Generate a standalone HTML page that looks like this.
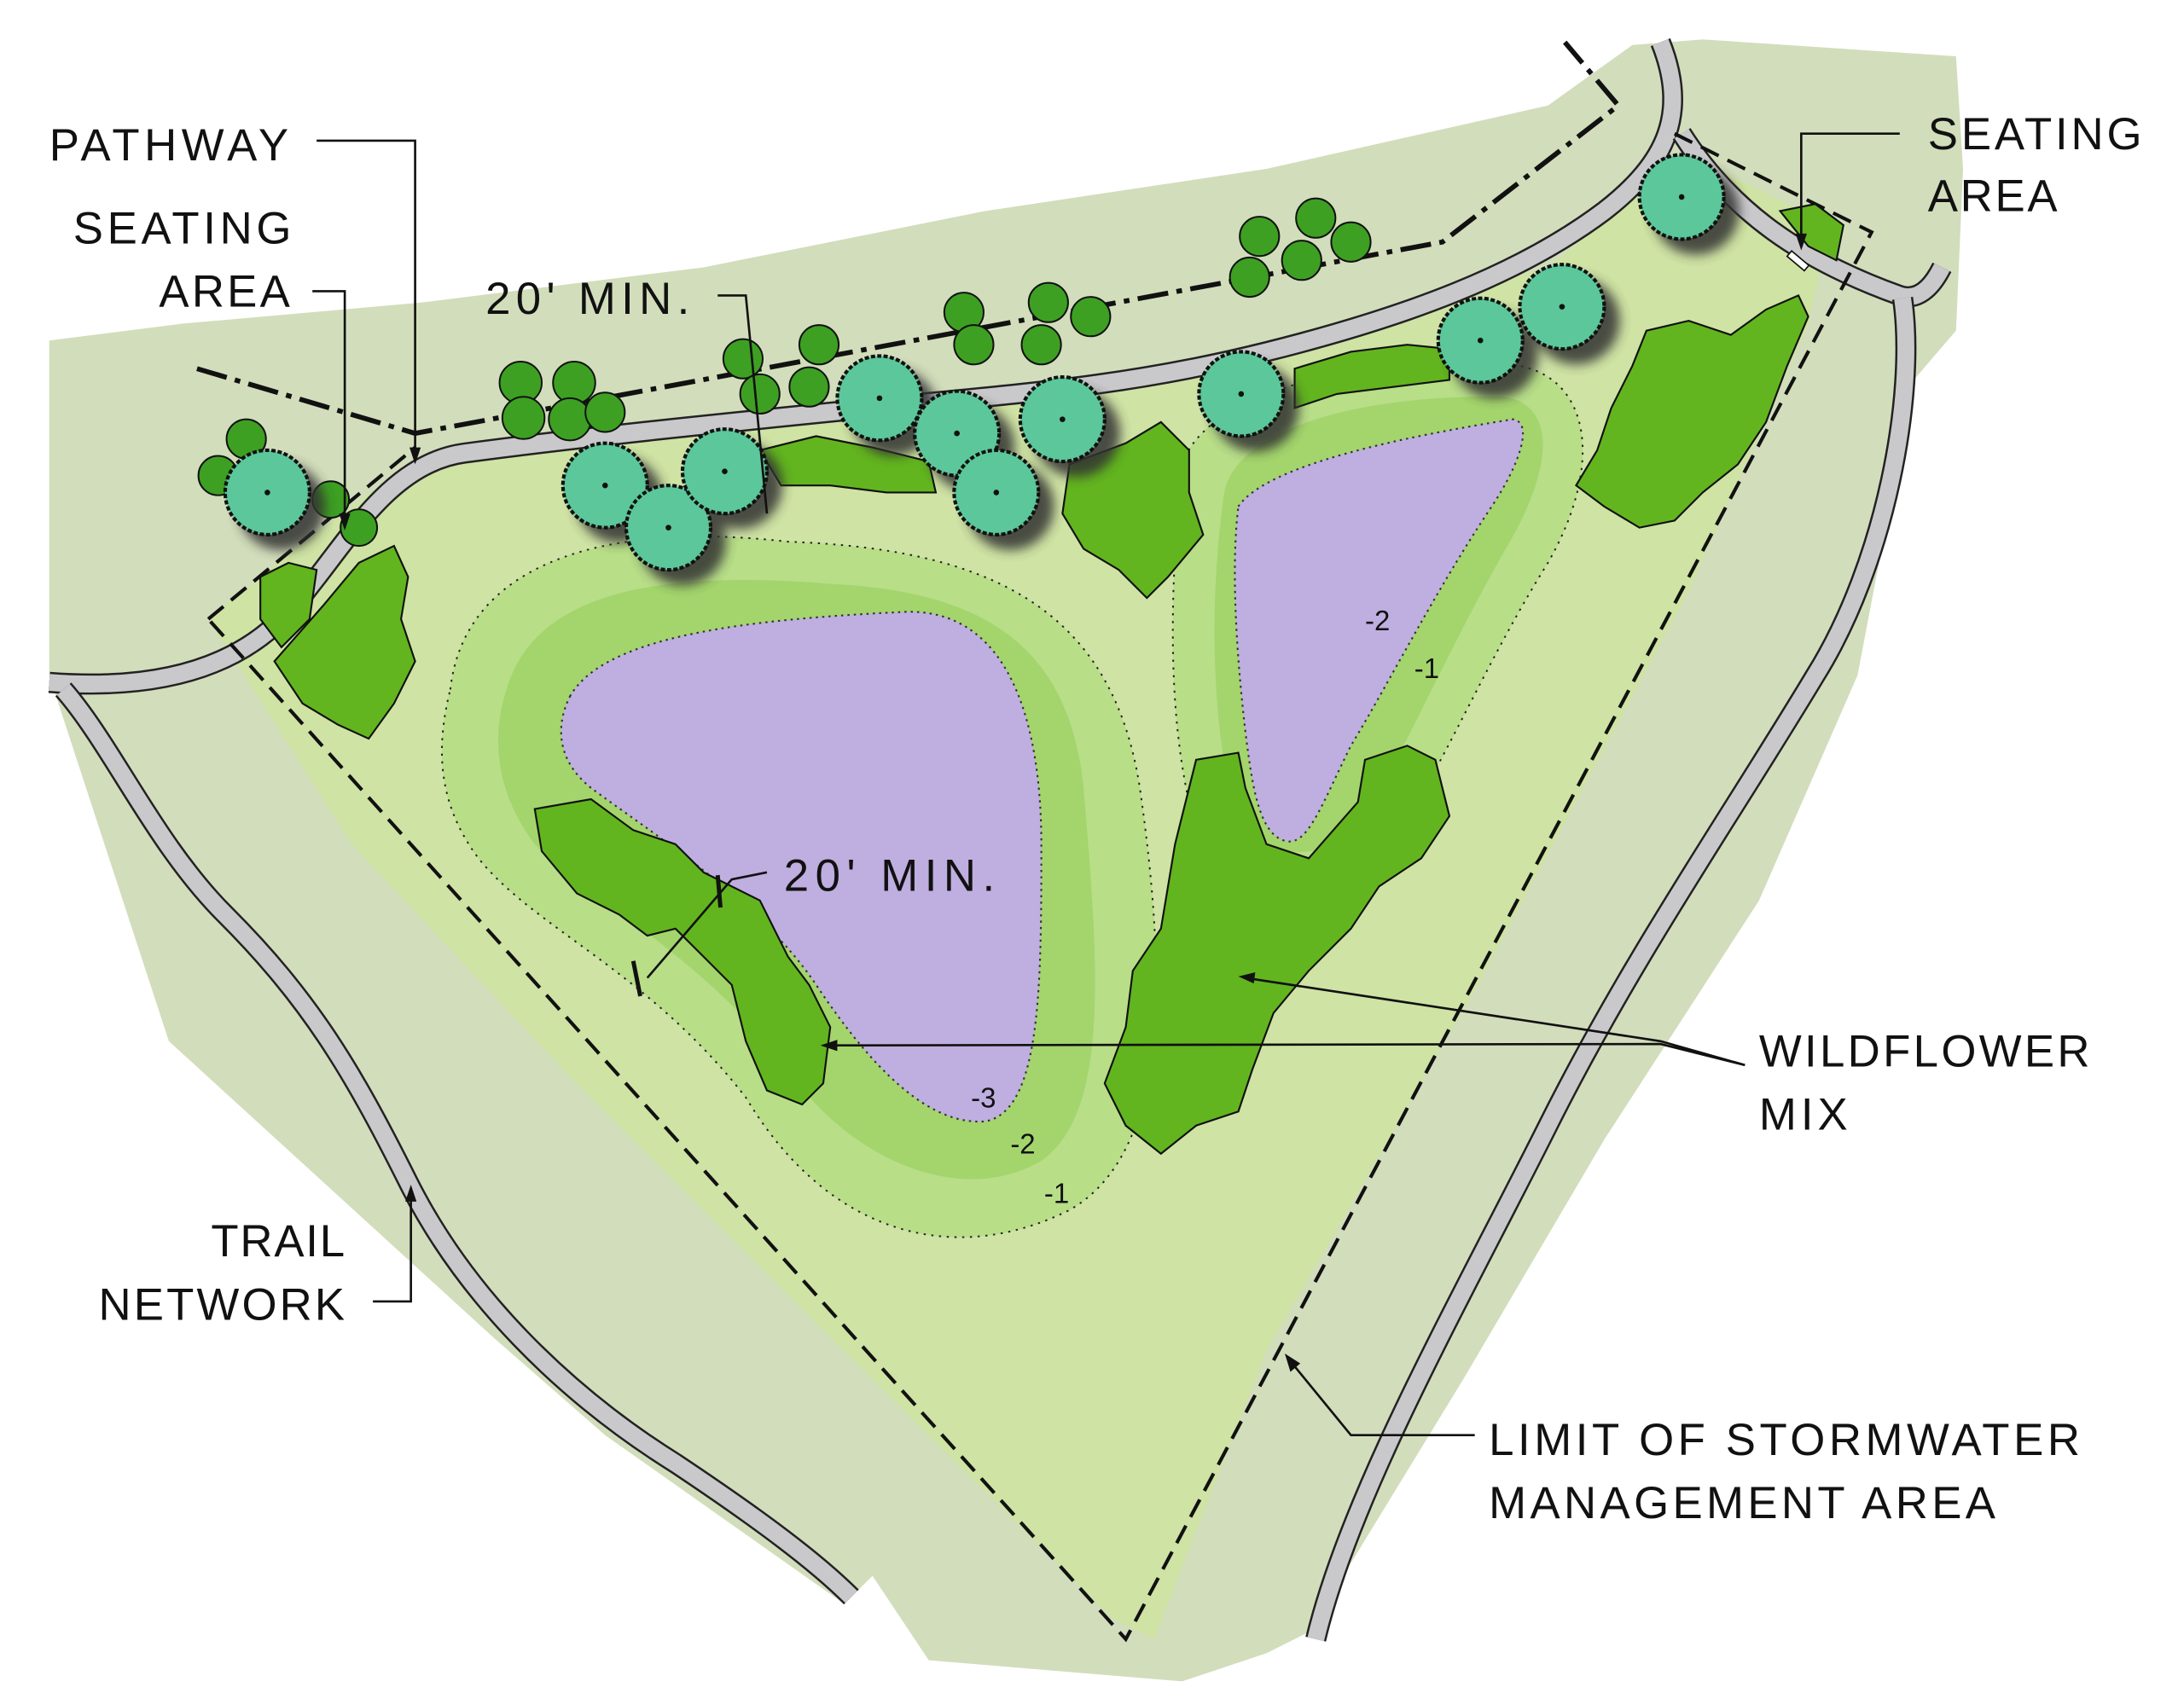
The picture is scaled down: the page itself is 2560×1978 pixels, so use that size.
<!DOCTYPE html>
<html><head><meta charset="utf-8"><style>
html,body{margin:0;padding:0;background:#fff;}
svg{display:block;}
text{font-family:"Liberation Sans",sans-serif;font-size:32px;fill:#111;}
</style></head><body>
<svg width="2560" height="1978" viewBox="0 0 1552 1199" preserveAspectRatio="none" xmlns="http://www.w3.org/2000/svg">
<defs>
<filter id="sh" x="-50%" y="-50%" width="200%" height="200%"><feGaussianBlur stdDeviation="4"/></filter>
</defs>
<path d="M35,242 L130,230 L300,215 L500,190 L700,150 L900,120 L1100,75 L1160,32 L1210,28 L1390,40 L1395,120 L1390,235 L1360,270 L1320,480 L1250,640 L1140,810 L1040,980 L930,1160 L900,1175 L840,1195 L660,1180 L620,1120 L600,1140 L430,1020 L350,950 L120,740 L35,480 Z" fill="#d2ddbb"/>
<path d="M148,440 L210,390 L290,330 L400,318 L700,290 L900,245 L1100,190 L1160,140 L1200,110 L1300,160 L1285,230 L1200,420 L1050,700 L900,960 L820,1165 L790,1150 L600,960 L400,760 L250,600 Z" fill="#cfe3a4"/>
<path d="M320,490 C330,400 430,370 560,385 C700,390 790,430 810,560 C830,700 830,820 760,860 C680,900 590,880 530,780 C460,690 380,660 340,610 C310,570 310,530 320,490 Z" fill="#b8de88" stroke="#222" stroke-width="1.2" stroke-dasharray="1.5,4"/>
<path d="M360,490 C380,420 470,405 590,415 C700,420 760,460 770,560 C780,680 790,790 740,825 C680,860 600,820 560,760 C500,680 420,640 380,600 C350,560 350,520 360,490 Z" fill="#a3d56c"/>
<path d="M840,330 C860,270 1000,250 1080,260 C1130,270 1140,330 1100,400 C1050,480 1020,560 980,610 C940,650 880,640 850,590 C830,520 830,430 840,330 Z" fill="#b8de88" stroke="#222" stroke-width="1.2" stroke-dasharray="1.5,4"/>
<path d="M870,350 C880,300 980,280 1070,282 C1110,290 1100,340 1070,390 C1030,460 1000,530 970,580 C940,620 890,610 875,570 C860,500 860,420 870,350 Z" fill="#a3d56c"/>
<path d="M405,495 C430,450 540,440 640,435 C720,430 740,520 740,600 C740,700 740,790 700,797 C660,800 620,760 580,700 C540,640 460,590 420,560 C395,540 395,515 405,495 Z" fill="#bfaee0" stroke="#333" stroke-width="1.3" stroke-dasharray="1.5,3"/>
<path d="M880,360 C900,330 1000,310 1075,298 C1090,300 1080,330 1060,360 C1020,420 990,480 960,530 C940,570 930,600 915,598 C895,595 890,560 885,520 C878,460 875,400 880,360 Z" fill="#bfaee0" stroke="#333" stroke-width="1.3" stroke-dasharray="1.5,3"/>
<text x="690" y="787" style="font-size:20px">-3</text>
<text x="718" y="820" style="font-size:20px">-2</text>
<text x="742" y="855" style="font-size:20px">-1</text>
<text x="970" y="448" style="font-size:20px">-2</text>
<text x="1005" y="482" style="font-size:20px">-1</text>
<g fill="none" stroke-linecap="butt">
<path d="M35,485 C100,490 160,480 200,440 C240,400 270,330 330,322 C420,310 520,300 620,290 C720,280 800,275 900,250 C1000,225 1080,195 1140,150 C1185,115 1200,80 1180,30" stroke="#222" stroke-width="15"/>
<path d="M35,485 C100,490 160,480 200,440 C240,400 270,330 330,322 C420,310 520,300 620,290 C720,280 800,275 900,250 C1000,225 1080,195 1140,150 C1185,115 1200,80 1180,30" stroke="#c9c9cb" stroke-width="12"/>
<path d="M1195,95 C1230,150 1280,185 1350,210 C1365,215 1375,200 1380,190" stroke="#222" stroke-width="15"/>
<path d="M1195,95 C1230,150 1280,185 1350,210 C1365,215 1375,200 1380,190" stroke="#c9c9cb" stroke-width="12"/>
<path d="M1352,212 C1362,280 1340,400 1290,480 C1230,580 1160,680 1100,800 C1040,920 960,1060 935,1165" stroke="#222" stroke-width="15"/>
<path d="M1352,212 C1362,280 1340,400 1290,480 C1230,580 1160,680 1100,800 C1040,920 960,1060 935,1165" stroke="#c9c9cb" stroke-width="12"/>
<path d="M45,490 C80,530 110,600 160,650 C220,710 250,760 290,840 C330,920 400,990 480,1040 C540,1080 580,1110 605,1135" stroke="#222" stroke-width="15"/>
<path d="M45,490 C80,530 110,600 160,650 C220,710 250,760 290,840 C330,920 400,990 480,1040 C540,1080 580,1110 605,1135" stroke="#c9c9cb" stroke-width="12"/>
</g>
<path d="M140,262 L295,308 L1025,172 L1150,75 L1112,30" fill="none" stroke="#111" stroke-width="3.5" stroke-dasharray="22,6,4,6"/>
<path d="M148,440 L295,318 M1190,95 L1330,165 L800,1165 L148,440" fill="none" stroke="#111" stroke-width="2.5" stroke-dasharray="14,7"/>
<g fill="#62b51f" stroke="#111" stroke-width="1.3">
<path d="M380,575 L420,568 L450,590 L480,600 L500,620 L540,640 L560,680 L575,700 L590,730 L585,770 L570,785 L545,775 L530,740 L520,700 L500,680 L480,660 L460,665 L440,650 L410,635 L385,605 Z"/>
<path d="M850,540 L880,535 L885,560 L900,600 L930,610 L965,570 L970,540 L1000,530 L1020,540 L1030,580 L1010,610 L980,630 L960,660 L930,690 L905,720 L890,760 L880,790 L850,800 L825,820 L800,800 L785,770 L800,730 L805,690 L825,660 L835,600 Z"/>
<path d="M1170,235 L1200,228 L1230,238 L1255,220 L1278,210 L1285,225 L1270,260 L1255,300 L1235,330 L1210,350 L1190,370 L1165,375 L1140,360 L1120,345 L1135,320 L1145,290 L1160,260 Z"/>
<path d="M760,330 L800,315 L825,300 L845,320 L845,350 L855,380 L830,410 L815,425 L795,405 L770,390 L755,365 Z"/>
<path d="M540,320 L580,310 L620,318 L660,328 L665,350 L630,350 L590,345 L555,345 Z"/>
<path d="M920,262 L960,250 L1000,245 L1030,248 L1030,270 L990,275 L950,280 L920,290 Z"/>
<path d="M195,470 L230,430 L255,400 L280,388 L290,410 L285,440 L295,470 L280,500 L262,525 L240,515 L215,500 Z"/>
<path d="M185,410 L205,400 L225,405 L220,440 L200,460 L185,440 Z"/>
<path d="M1265,150 L1290,145 L1310,160 L1305,185 L1285,175 Z"/>
</g>
<rect x="1270" y="183" width="16" height="5" fill="#fff" stroke="#111" transform="rotate(40 1278 185)"/>
<g fill="#3da022" stroke="#111" stroke-width="1.2">
<circle cx="370" cy="272" r="15"/><circle cx="408" cy="272" r="15"/><circle cx="372" cy="297" r="15"/><circle cx="405" cy="298" r="15"/><circle cx="430" cy="293" r="14"/>
<circle cx="528" cy="255" r="14"/><circle cx="582" cy="245" r="14"/><circle cx="540" cy="280" r="14"/><circle cx="575" cy="275" r="14"/>
<circle cx="685" cy="222" r="14"/><circle cx="692" cy="245" r="14"/><circle cx="745" cy="215" r="14"/><circle cx="775" cy="225" r="14"/><circle cx="740" cy="245" r="14"/>
<circle cx="895" cy="168" r="14"/><circle cx="935" cy="155" r="14"/><circle cx="960" cy="172" r="14"/><circle cx="925" cy="185" r="14"/><circle cx="888" cy="197" r="14"/>
<circle cx="155" cy="338" r="14"/><circle cx="175" cy="312" r="14"/><circle cx="235" cy="355" r="13"/><circle cx="255" cy="375" r="13"/>
</g>
<g fill="#333" filter="url(#sh)" opacity="0.85">
<circle cx="200" cy="360" r="31"/><circle cx="440" cy="355" r="31"/><circle cx="485" cy="385" r="31"/><circle cx="525" cy="345" r="31"/><circle cx="635" cy="293" r="31"/><circle cx="690" cy="318" r="31"/><circle cx="718" cy="360" r="31"/><circle cx="765" cy="308" r="31"/><circle cx="892" cy="290" r="31"/><circle cx="1062" cy="252" r="31"/><circle cx="1120" cy="228" r="31"/><circle cx="1205" cy="150" r="31"/>
</g>
<g fill="#5bc79a" stroke="#111" stroke-width="2.5" stroke-dasharray="3,1.5">
<circle cx="190" cy="350" r="30"/><circle cx="430" cy="345" r="30"/><circle cx="475" cy="375" r="30"/><circle cx="515" cy="335" r="30"/><circle cx="625" cy="283" r="30"/><circle cx="680" cy="308" r="30"/><circle cx="708" cy="350" r="30"/><circle cx="755" cy="298" r="30"/><circle cx="882" cy="280" r="30"/><circle cx="1052" cy="242" r="30"/><circle cx="1110" cy="218" r="30"/><circle cx="1195" cy="140" r="30"/>
</g>
<g fill="#111">
<circle cx="190" cy="350" r="2"/><circle cx="430" cy="345" r="2"/><circle cx="475" cy="375" r="2"/><circle cx="515" cy="335" r="2"/><circle cx="625" cy="283" r="2"/><circle cx="680" cy="308" r="2"/><circle cx="708" cy="350" r="2"/><circle cx="755" cy="298" r="2"/><circle cx="882" cy="280" r="2"/><circle cx="1052" cy="242" r="2"/><circle cx="1110" cy="218" r="2"/><circle cx="1195" cy="140" r="2"/>
</g>
<g fill="none" stroke="#111" stroke-width="1.6">
<path d="M225,100 L295,100 L295,328"/>
<path d="M222,207 L245,207 L245,375"/>
<path d="M510,210 L530,210 L545,365"/>
<path d="M1350,95 L1280,95 L1280,175"/>
<path d="M545,620 L520,625 L460,695"/>
<path d="M510,622 L512,645 M450,683 L455,708" stroke-width="3"/>
<path d="M1240,757 L1180,740 L885,695 M1240,757 L1180,742 L585,743"/>
<path d="M265,925 L292,925 L292,845"/>
<path d="M1048,1020 L960,1020 L915,965"/>
</g>
<g fill="#111">
<path d="M295,330 L291,318 L299,318 Z"/><path d="M245,377 L241,365 L249,365 Z"/><path d="M1280,178 L1276,166 L1284,166 Z"/>
<path d="M880,694 L892,691 L891,699 Z"/><path d="M583,743 L595,739 L595,747 Z"/><path d="M292,842 L288,854 L296,854 Z"/><path d="M913,962 L917,975 L924,969 Z"/>
</g>
<text x="35" y="114" textLength="170">PATHWAY</text>
<text x="52" y="173" textLength="155">SEATING</text>
<text x="113" y="218" textLength="93">AREA</text>
<text x="345" y="223" textLength="145">20' MIN.</text>
<text x="1370" y="106" textLength="152">SEATING</text>
<text x="1370" y="150" textLength="92">AREA</text>
<text x="557" y="633" textLength="150">20' MIN.</text>
<text x="1250" y="758" textLength="235">WILDFLOWER</text>
<text x="1250" y="803" textLength="63">MIX</text>
<text x="150" y="893" textLength="95">TRAIL</text>
<text x="70" y="938" textLength="175">NETWORK</text>
<text x="1058" y="1034" textLength="420">LIMIT OF STORMWATER</text>
<text x="1058" y="1079" textLength="360">MANAGEMENT AREA</text>
</svg>
</body></html>
